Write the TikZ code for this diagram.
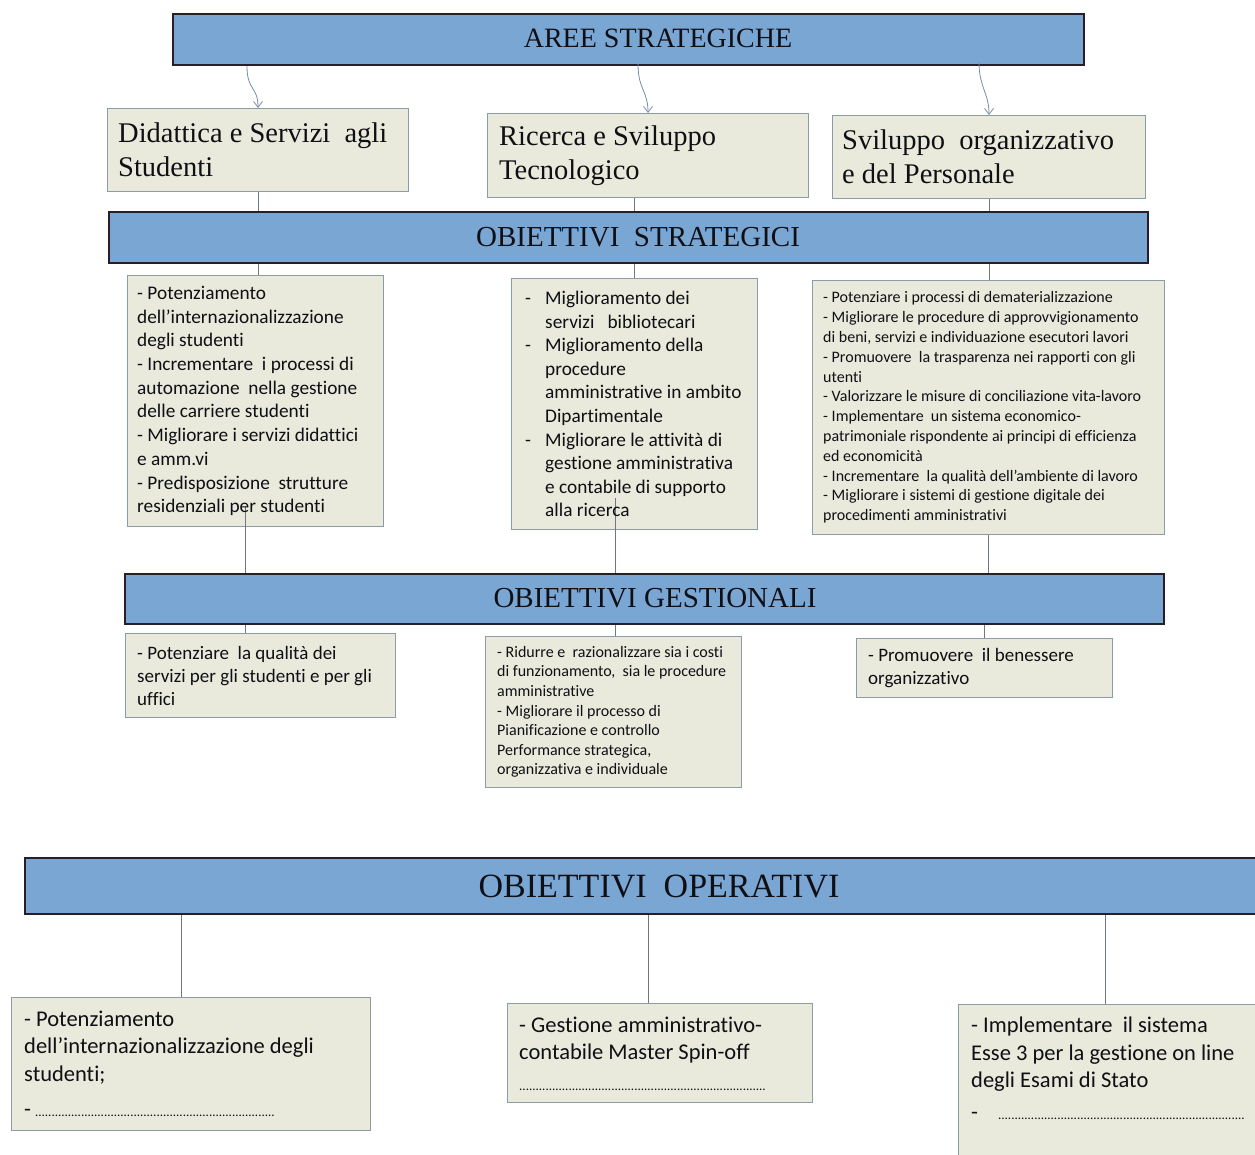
\documentclass[tikz,border=0pt]{standalone}
\usepackage{fontspec}
\setmainfont{Liberation Serif}
\newfontfamily\calib[Ligatures=NoCommon]{Carlito}
\usetikzlibrary{arrows.meta}
\definecolor{barblue}{RGB}{122,166,212}
\definecolor{barline}{RGB}{40,30,40}
\definecolor{boxfill}{RGB}{233,234,220}
\definecolor{boxline}{RGB}{140,155,168}
\definecolor{connc}{RGB}{110,120,130}
\definecolor{arrc}{RGB}{120,140,165}
\definecolor{txt}{RGB}{15,15,20}
\newcommand\dotrow[1]{\hbox to #1{\fontsize{13}{13}\selectfont\xleaders\hbox{.}\hfill}}
\begin{document}
\begin{tikzpicture}[x=1pt,y=-1pt,
  bar/.style={draw=barline, line width=2.2pt, fill=barblue, inner sep=0pt, anchor=north west},
  bartext/.style={text=txt, inner sep=0pt},
  box/.style={draw=boxline, line width=1pt, fill=boxfill, inner sep=0pt, anchor=north west},
  btext/.style={align=left, inner sep=0pt, anchor=west, text=txt},
  serift/.style={font=\fontsize{28.5}{34}\selectfont},
  conn/.style={draw=connc, line width=0.8pt},
  arr/.style={draw=arrc, line width=0.8pt, -{Straight Barb[length=6pt,width=9pt]}},
]
\useasboundingbox (0,0) rectangle (1255,1154);
\clip (0,0) rectangle (1255,1154);

% bars
\node[bar, minimum width=911pt, minimum height=51pt] (aree) at (172,13) {};
\node[bar, minimum width=1039pt, minimum height=51pt] (strat) at (108,211) {};
\node[bar, minimum width=1039pt, minimum height=50pt] (gest) at (124,573) {};
\node[bar, minimum width=1250pt, minimum height=56pt] (oper) at (24,857) {};

% boxes
\node[box, minimum width=301pt, minimum height=83pt] (a1) at (107,108) {};
\node[box, minimum width=321pt, minimum height=84pt] (a2) at (487,113) {};
\node[box, minimum width=313pt, minimum height=83pt] (a3) at (832,115) {};
\node[box, minimum width=256pt, minimum height=251pt] (s1) at (127,275) {};
\node[box, minimum width=246pt, minimum height=251pt] (s2) at (511,278) {};
\node[box, minimum width=352pt, minimum height=254pt] (s3) at (812,280) {};
\node[box, minimum width=270pt, minimum height=84pt] (g1) at (125,633) {};
\node[box, minimum width=256pt, minimum height=151pt] (g2) at (485,636) {};
\node[box, minimum width=256pt, minimum height=59pt] (g3) at (856,638) {};
\node[box, minimum width=359pt, minimum height=133pt] (o1) at (11,997) {};
\node[box, minimum width=305pt, minimum height=99pt] (o2) at (507,1003) {};
\node[box, minimum width=320pt, minimum height=170pt] (o3) at (958,1004) {};

% helper coordinates
\coordinate (k1) at ([xshift=-10pt]s1.south);
\coordinate (k2) at ([xshift=-19pt]s2.south);
\coordinate (m1) at ([xshift=-10pt]o1.north);
\coordinate (m2) at ([xshift=-12pt]o2.north);
\coordinate (m3) at ([xshift=147pt]o3.north west);

% arrows from AREE STRATEGICHE
\draw[arr] (a1.north |- aree.south) ++(-11pt,0) .. controls +(0,25) and +(0,-22) .. (a1.north);
\draw[arr] (a2.north |- aree.south) ++(-10pt,2pt) .. controls +(0,25) and +(0,-22) .. (a2.north);
\draw[arr] (a3.north |- aree.south) ++(-10pt,4pt) .. controls +(0,25) and +(0,-22) .. (a3.north);

% connectors
\draw[conn] (a1.south) -- (a1.south |- strat.north);
\draw[conn] (s2.north |- a2.south) -- (s2.north |- strat.north);
\draw[conn] (a3.south) -- (a3.south |- strat.north);
\draw[conn] (a1.south |- strat.south) -- (a1.south |- s1.north);
\draw[conn] (s2.north |- strat.south) -- (s2.north);
\draw[conn] (a3.south |- strat.south) -- (a3.south |- s3.north);
\draw[conn] ([yshift=21pt]k1) -- (k1 |- gest.north);
\draw[conn] ([yshift=32pt]k2) -- (k2 |- gest.north);
\draw[conn] (s3.south) -- (s3.south |- gest.north);
\draw[conn] (k1 |- gest.south) -- (k1 |- g1.north);
\draw[conn] (k2 |- gest.south) -- (k2 |- g2.north);
\draw[conn] (g3.north |- gest.south) -- (g3.north);
\draw[conn] (m1 |- oper.south) -- (m1);
\draw[conn] (m2 |- oper.south) -- (m2);
\draw[conn] (m3 |- oper.south) -- (m3);

% bar texts
\node[bartext, font=\fontsize{28}{30}\selectfont] (areet) at (658,38) {AREE STRATEGICHE};
\node[bartext, font=\fontsize{29}{30}\selectfont] (stratt) at (638,237) {OBIETTIVI\ \ STRATEGICI};
\node[bartext, font=\fontsize{29}{30}\selectfont] (gestt) at (655,598) {OBIETTIVI GESTIONALI};
\node[bartext, font=\fontsize{34}{36}\selectfont] (opert) at (659,886) {OBIETTIVI\ \ OPERATIVI};

% area texts
\node[btext, serift] (a1t) at ([xshift=11pt]a1.west) {Didattica e Servizi\ \ agli\\Studenti};
\node[btext, serift] (a2t) at ([xshift=12pt]a2.west) {Ricerca e Sviluppo\\Tecnologico};
\node[btext, serift] (a3t) at ([xshift=10pt]a3.west) {Sviluppo\ \ organizzativo\\e del Personale};

% strategic texts
\node[btext, font=\calib\fontsize{19.3}{23.7}\selectfont] (s1t) at ([xshift=10pt]s1.west) {- Potenziamento\\dell’internazionalizzazione\\degli studenti\\- Incrementare\ \ i processi di\\automazione\ \ nella gestione\\delle carriere studenti\\- Migliorare i servizi didattici\\e amm.vi\\- Predisposizione\ \ strutture\\residenziali per studenti};
\node[btext, font=\calib\fontsize{19.3}{23.6}\selectfont] (s2t) at ([xshift=14pt]s2.west) {\makebox[20pt][l]{-}Miglioramento dei\\\hspace*{20pt}servizi\ \ \ bibliotecari\\\makebox[20pt][l]{-}Miglioramento della\\\hspace*{20pt}procedure\\\hspace*{20pt}amministrative in ambito\\\hspace*{20pt}Dipartimentale\\\makebox[20pt][l]{-}Migliorare le attività di\\\hspace*{20pt}gestione amministrativa\\\hspace*{20pt}e contabile di supporto\\\hspace*{20pt}alla ricerca};
\node[btext, font=\calib\fontsize{16}{19.8}\selectfont] (s3t) at ([xshift=11pt]s3.west) {- Potenziare i processi di dematerializzazione\\- Migliorare le procedure di approvvigionamento\\di beni, servizi e individuazione esecutori lavori\\- Promuovere\ \ la trasparenza nei rapporti con gli\\utenti\\- Valorizzare le misure di conciliazione vita-lavoro\\- Implementare\ \ un sistema economico-\\patrimoniale rispondente ai principi di efficienza\\ed economicità\\- Incrementare\ \ la qualità dell’ambiente di lavoro\\- Migliorare i sistemi di gestione digitale dei\\procedimenti amministrativi};

% gestional texts
\node[btext, font=\calib\fontsize{19}{23}\selectfont] (g1t) at ([xshift=12pt]g1.west) {- Potenziare\ \ la qualità dei\\servizi per gli studenti e per gli\\uffici};
\node[btext, font=\calib\fontsize{16}{19.6}\selectfont] (g2t) at ([xshift=12pt]g2.west) {- Ridurre e\ \ razionalizzare sia i costi\\di funzionamento,\ \ sia le procedure\\amministrative\\- Migliorare il processo di\\Pianificazione e controllo\\Performance strategica,\\organizzativa e individuale};
\node[btext, font=\calib\fontsize{19}{23}\selectfont] (g3t) at ([xshift=12pt]g3.west) {- Promuovere\ \ il benessere\\organizzativo};

% operative texts
\node[btext, font=\calib\fontsize{22.5}{27.5}\selectfont] (o1t) at ([xshift=13pt]o1.west) {- Potenziamento\\dell’internazionalizzazione degli\\studenti;\\[8pt]-\hspace{4pt}\dotrow{240pt}};
\node[btext, font=\calib\fontsize{22.5}{27}\selectfont] (o2t) at ([xshift=12pt,yshift=-1pt]o2.west) {- Gestione amministrativo-\\contabile Master Spin-off\\[4pt]\dotrow{247pt}};
\node[btext, font=\calib\fontsize{22.5}{27.5}\selectfont] (o3t) at ([xshift=13pt,yshift=-64pt]o3.north west) {- Implementare\ \ il sistema\\Esse 3 per la gestione on line\\degli Esami di Stato\\[4pt]-\hspace{20pt}\dotrow{247pt}};
\end{tikzpicture}
\end{document}
